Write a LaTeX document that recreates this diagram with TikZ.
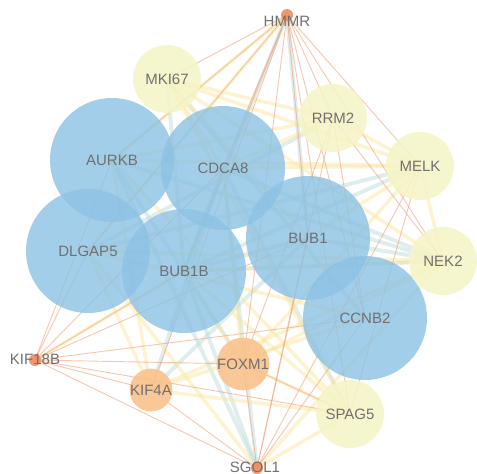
\documentclass[tikz,border=0pt]{standalone}
\usepackage{fontspec}
\setmainfont{Liberation Sans}
\pgfdeclarelayer{background}
\pgfsetlayers{background,main}
\definecolor{cblue}{RGB}{140,194,228}
\definecolor{cyel}{RGB}{245,245,198}
\definecolor{corg}{RGB}{250,194,140}
\definecolor{cdot}{RGB}{240,140,95}
\definecolor{ctxt}{RGB}{112,112,112}
\definecolor{eorange}{RGB}{242,160,120}
\definecolor{eyellow}{RGB}{250,228,150}
\definecolor{eteal}{RGB}{185,218,215}
\tikzset{
  gene/.style={circle,inner sep=0pt,text=ctxt,font=\fontsize{15}{17}\selectfont},
  bignode/.style={gene,fill=cblue,fill opacity=0.8,text opacity=1,minimum size=124pt},
  yelnode/.style={gene,fill=cyel,fill opacity=0.85,text opacity=1,minimum size=68pt},
  orgnode/.style={gene,fill=corg,fill opacity=0.9,text opacity=1,minimum size=40pt},
  dotnode/.style={circle,inner sep=0pt,fill=cdot,fill opacity=0.9,minimum size=12pt},
  lbl/.style={text=ctxt,font=\fontsize{15}{17}\selectfont,inner sep=0pt},
  eo/.style={eorange,line width=0.9pt,opacity=0.6},
  ey/.style={eyellow,line width=3.5pt,opacity=0.45},
  eb/.style={eteal,line width=4pt,opacity=0.45}
}
\begin{document}
\begin{tikzpicture}[x=1pt,y=-1pt]
\useasboundingbox (0,0) rectangle (477,474);
% small dot nodes
\node[dotnode,label={[lbl,yshift=-6pt]center:HMMR}] (HMMR) at (287,15) {};
\node[dotnode,label={[lbl,yshift=1pt]center:KIF18B}] (KIF18B) at (35,360) {};
\node[dotnode,label={[lbl,xshift=-2pt,yshift=1pt]center:SGOL1}] (SGOL1) at (257,468) {};
% yellow nodes
\node[yelnode] (MKI67) at (167,79) {MKI67};
\node[yelnode] (RRM2) at (333,118) {RRM2};
\node[yelnode] (MELK) at (420,166) {MELK};
\node[yelnode] (NEK2) at (443,261) {NEK2};
\node[yelnode] (SPAG5) at (350,414) {SPAG5};
% orange nodes
\node[orgnode] (FOXM1) at (243,364) {FOXM1};
\node[orgnode] (KIF4A) at (151,390) {KIF4A};
% blue nodes
\node[bignode] (AURKB) at (112,160) {AURKB};
\node[bignode] (CDCA8) at (223,168) {CDCA8};
\node[bignode] (DLGAP5) at (88,251) {DLGAP5};
\node[bignode] (BUB1B) at (184,271) {BUB1B};
\node[bignode] (BUB1) at (308,238) {BUB1};
\node[bignode] (CCNB2) at (365,318) {CCNB2};
\begin{pgfonlayer}{background}
% teal thick edges
\foreach \a/\b in {NEK2/BUB1,NEK2/CDCA8,NEK2/BUB1B,MELK/BUB1B,MELK/DLGAP5,BUB1B/BUB1,CDCA8/BUB1B,KIF4A/BUB1,SGOL1/BUB1B,SGOL1/CDCA8,HMMR/BUB1,HMMR/BUB1B,MKI67/BUB1B,MKI67/CCNB2,RRM2/DLGAP5,FOXM1/AURKB,SGOL1/AURKB,KIF4A/CDCA8,NEK2/AURKB,SPAG5/CDCA8}
  \draw[eb] (\a.center) -- (\b.center);
% yellow thick edges
\foreach \a/\b in {MKI67/RRM2,MKI67/MELK,MKI67/CDCA8,MKI67/BUB1,MKI67/NEK2,RRM2/MELK,RRM2/CDCA8,RRM2/AURKB,MELK/CDCA8,MELK/BUB1,MELK/NEK2,MELK/AURKB,NEK2/BUB1B,NEK2/DLGAP5,SPAG5/KIF4A,SPAG5/FOXM1,SPAG5/BUB1B,SPAG5/AURKB,KIF4A/DLGAP5,KIF4A/AURKB,FOXM1/BUB1B,FOXM1/CDCA8,KIF4A/CCNB2,SGOL1/DLGAP5,SGOL1/SPAG5,SGOL1/NEK2,KIF18B/BUB1B,HMMR/AURKB,HMMR/DLGAP5,FOXM1/NEK2,KIF4A/NEK2,SPAG5/MKI67,FOXM1/MELK,CCNB2/DLGAP5}
  \draw[ey] (\a.center) -- (\b.center);
% orange thin edges
\foreach \a/\b in {HMMR/MKI67,HMMR/AURKB,HMMR/CDCA8,HMMR/BUB1B,HMMR/BUB1,HMMR/RRM2,HMMR/MELK,HMMR/NEK2,HMMR/CCNB2,HMMR/SPAG5,HMMR/FOXM1,HMMR/DLGAP5,HMMR/KIF4A,KIF18B/AURKB,KIF18B/DLGAP5,KIF18B/BUB1B,KIF18B/CDCA8,KIF18B/BUB1,KIF18B/CCNB2,KIF18B/FOXM1,KIF18B/KIF4A,KIF18B/SPAG5,KIF18B/SGOL1,SGOL1/KIF4A,SGOL1/FOXM1,SGOL1/BUB1,SGOL1/CCNB2,SGOL1/RRM2,SGOL1/MELK,FOXM1/SPAG5,FOXM1/RRM2,RRM2/CCNB2,MELK/SPAG5,RRM2/NEK2}
  \draw[eo] (\a.center) -- (\b.center);
\end{pgfonlayer}
\end{tikzpicture}
\end{document}
